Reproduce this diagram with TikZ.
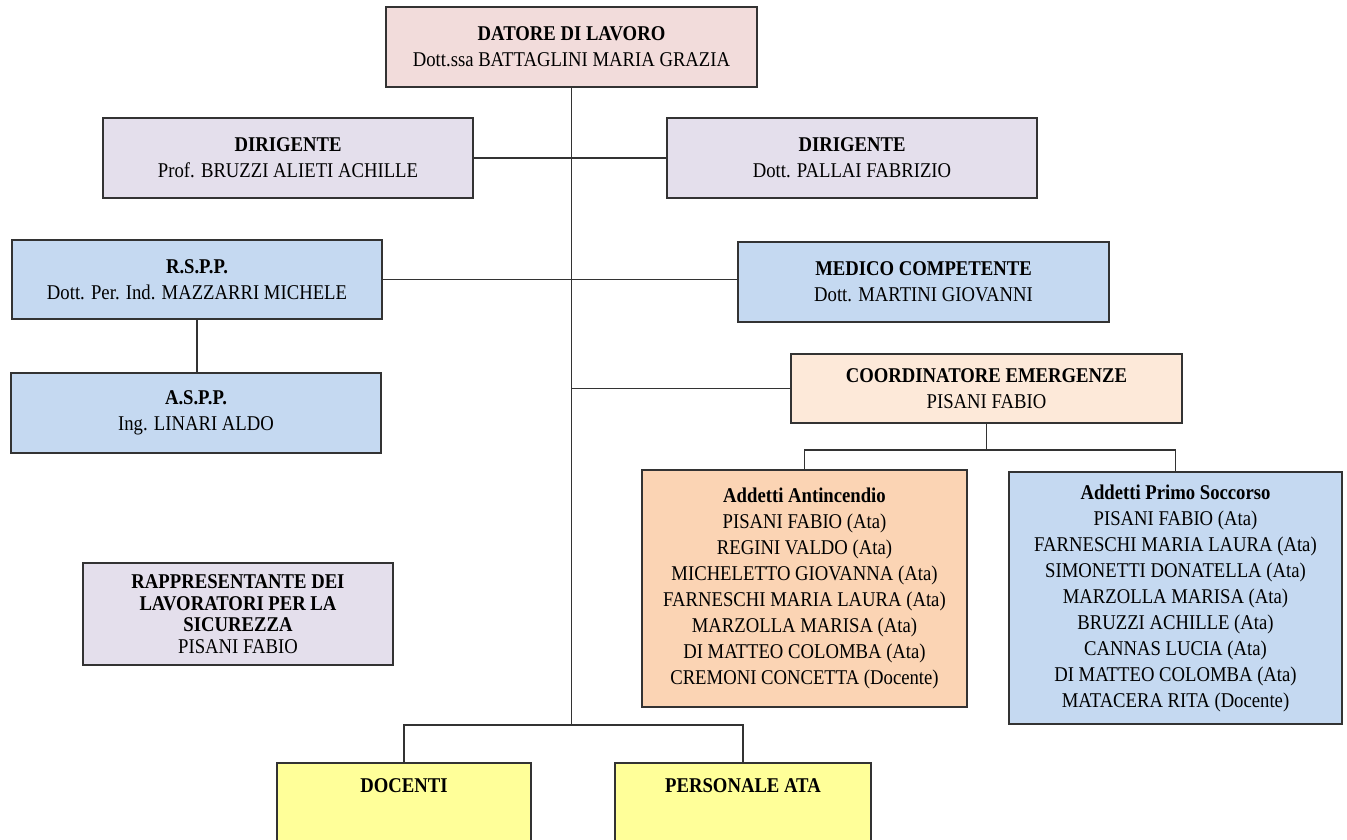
\documentclass[tikz,border=0pt]{standalone}
\usepackage{fontspec}
\setmainfont{Liberation Serif}[FakeStretch=0.89]
\usetikzlibrary{positioning,calc}

\definecolor{rosa}{HTML}{F2DCDB}
\definecolor{lilla}{HTML}{E4DFEC}
\definecolor{celeste}{HTML}{C5D9F1}
\definecolor{pesca}{HTML}{FDE9D9}
\definecolor{arancio}{HTML}{FBD4B4}
\definecolor{giallo}{HTML}{FFFF99}

\begin{document}
\begin{tikzpicture}[x=1pt,y=-1pt,
    box/.style={draw=black!80,line width=1.6pt,inner sep=0pt,align=center,
        font=\fontsize{21}{26}\selectfont},
    wire/.style={draw=black!80,line width=1.6pt},
    ruolo/.style={box,anchor=north,inner ysep=15pt,text height=15pt,text depth=90pt,font=\fontsize{21}{26}\selectfont\bfseries}]
    \clip (0,0) rectangle (1347,839);
    \fill[white] (0,0) rectangle (1347,839);

    \node[box,fill=rosa,minimum width=371,minimum height=80] (datore) at (571.5,47) {\textbf{DATORE DI LAVORO}\\Dott.ssa BATTAGLINI MARIA GRAZIA};

    \node[box,fill=lilla,minimum width=370,minimum height=80] (dirL) at (288,158) {\textbf{DIRIGENTE}\\Prof. BRUZZI ALIETI ACHILLE};
    \node[box,fill=lilla,minimum width=370,minimum height=80] (dirR) at (852,158) {\textbf{DIRIGENTE}\\Dott. PALLAI FABRIZIO};

    \node[box,fill=celeste,minimum width=370,minimum height=79] (rspp) at (197,279.5) {\textbf{R.S.P.P.}\\Dott. Per. Ind. MAZZARRI MICHELE};
    \node[box,fill=celeste,minimum width=371,minimum height=80] (medico) at (923.5,282) {\textbf{MEDICO COMPETENTE}\\Dott. MARTINI GIOVANNI};
    \node[box,fill=celeste,minimum width=370,minimum height=80] (aspp) at (196,413) {\textbf{A.S.P.P.}\\Ing. LINARI ALDO};

    \node[box,fill=pesca,minimum width=391,minimum height=69] (coord) at (986.5,388.5) {\textbf{COORDINATORE EMERGENZE}\\PISANI FABIO};

    \node[box,fill=arancio,minimum width=325,minimum height=237] (antinc) at (804.5,588.5) {\textbf{Addetti Antincendio}\\PISANI FABIO (Ata)\\REGINI VALDO (Ata)\\MICHELETTO GIOVANNA (Ata)\\FARNESCHI MARIA LAURA (Ata)\\MARZOLLA MARISA (Ata)\\DI MATTEO COLOMBA (Ata)\\CREMONI CONCETTA (Docente)};
    \node[box,fill=celeste,minimum width=333,minimum height=252] (primo) at (1175.5,598) {\textbf{Addetti Primo Soccorso}\\PISANI FABIO (Ata)\\FARNESCHI MARIA LAURA (Ata)\\SIMONETTI DONATELLA (Ata)\\MARZOLLA MARISA (Ata)\\BRUZZI ACHILLE (Ata)\\CANNAS LUCIA (Ata)\\DI MATTEO COLOMBA (Ata)\\MATACERA RITA (Docente)};

    \node[box,fill=lilla,minimum width=310,minimum height=102,font=\fontsize{21}{21.5}\selectfont] (rapp) at (238,614) {\textbf{RAPPRESENTANTE DEI}\\\textbf{LAVORATORI PER LA}\\\textbf{SICUREZZA}\\PISANI FABIO};

    \node[ruolo,fill=giallo,minimum width=254] (docenti) at (404,762) {DOCENTI};
    \node[ruolo,fill=giallo,minimum width=256] (ata) at (743,762) {PERSONALE ATA};

    % collegamenti
    \coordinate (bsplit) at ($(datore.south)+(0,637)$);
    \coordinate (csplit) at ($(coord.south)+(0,26)$);
    \draw[wire] (datore.south) -- (bsplit);
    \draw[wire] (dirL.east) -- (dirR.west);
    \draw[wire] (rspp.east) -- (rspp.east -| medico.west);
    \draw[wire] (rspp.south) -- (rspp.south |- aspp.north);
    \draw[wire] (coord.west -| datore.south) -- (coord.west);
    \draw[wire] (coord.south) -- (csplit);
    \draw[wire] (antinc.north) |- (csplit) -| (primo.north);
    \draw[wire] (docenti.north) |- (bsplit) -| (ata.north);
\end{tikzpicture}
\end{document}
